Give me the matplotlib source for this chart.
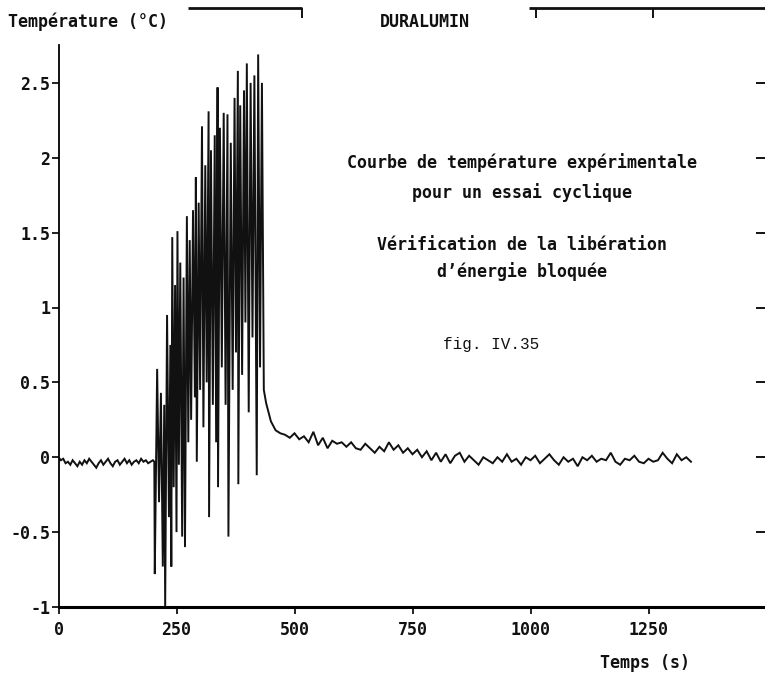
import numpy as np
import matplotlib.pyplot as plt

plt.rcParams['axes.unicode_minus'] = False
MONO = 'DejaVu Sans Mono'

# baseline before the test, one reading every 5 s from t = 0
base_step = 5
base_temp = [0.0, -0.02, -0.01, -0.04, -0.03, -0.05, -0.02, -0.04, -0.06, -0.03,
             -0.05, -0.02, -0.04, -0.01, -0.03, -0.05, -0.07, -0.04, -0.02, -0.05,
             -0.03, -0.01, -0.04, -0.06, -0.03, -0.02, -0.05, -0.03, -0.01, -0.04,
             -0.02, -0.05, -0.03, -0.02, -0.04, -0.01, -0.03, -0.02, -0.04, -0.03,
             -0.02]

# cyclic test: turning points of the signal
cyc_time = [203, 204, 209, 213, 217, 221, 224, 226, 230, 234,
            237, 239, 241, 244, 247, 250, 252, 255, 258, 262,
            265, 268, 272, 275, 278, 281, 285, 289, 291, 293,
            297, 300, 304, 307, 311, 314, 318, 319, 323, 327,
            331, 334, 337, 338, 342, 346, 350, 354, 358, 360,
            365, 369, 373, 376, 380, 381, 385, 389, 393, 396,
            399, 403, 407, 411, 415, 420, 423, 427, 431, 435]
cyc_temp = [-0.03, -0.78, 0.59, -0.30, 0.43, -0.73, 0.35, -1.00, 0.95, -0.40,
            0.75, -0.73, 1.47, -0.20, 1.15, -0.50, 1.51, -0.05, 1.30, -0.53,
            1.20, -0.60, 1.61, 0.10, 1.45, 0.25, 1.65, 0.40, 1.87, -0.03,
            1.70, 0.45, 2.21, 0.20, 1.95, 0.50, 2.31, -0.40, 2.05, 0.35,
            2.15, 0.10, 2.47, -0.20, 2.20, 0.60, 2.30, 0.35, 2.29, -0.53,
            2.10, 0.45, 2.40, 0.70, 2.58, -0.18, 2.35, 0.55, 2.45, 0.90,
            2.63, 0.30, 2.50, 0.80, 2.55, -0.12, 2.69, 0.60, 2.50, 0.45]

# relaxation after the test, one reading every 10 s from t = 440
tail_start = 440
tail_step = 10
tail_temp = [0.36, 0.24, 0.18, 0.16, 0.15, 0.13, 0.16, 0.12, 0.14, 0.10,
             0.17, 0.08, 0.13, 0.06, 0.11, 0.09, 0.10, 0.07, 0.10, 0.06,
             0.05, 0.09, 0.06, 0.03, 0.07, 0.04, 0.10, 0.05, 0.08, 0.03,
             0.06, 0.02, 0.05, 0.00, 0.04, -0.02, 0.03, -0.03, 0.02, -0.04,
             0.01, 0.03, -0.03, 0.01, -0.02, -0.05, 0.00, -0.02, -0.04, 0.00,
             -0.03, 0.02, -0.03, -0.01, -0.05, 0.00, -0.02, 0.01, -0.04, -0.01,
             0.02, -0.02, -0.05, 0.00, -0.03, -0.01, -0.06, 0.00, -0.02, 0.01,
             -0.03, -0.01, -0.02, 0.03, -0.03, -0.05, -0.01, -0.02, 0.01, -0.03,
             -0.04, -0.01, -0.03, -0.02, 0.03, -0.01, -0.04, 0.02, -0.02, 0.00,
             -0.03]

x_ticks = [0, 250, 500, 750, 1000, 1250]
y_ticks = [-1, -0.5, 0, 0.5, 1, 1.5, 2, 2.5]
y_labels = ['-1', '-0.5', '0', '0.5', '1', '1.5', '2', '2.5']

time = np.concatenate([np.arange(len(base_temp)) * base_step,
                       cyc_time,
                       tail_start + np.arange(len(tail_temp)) * tail_step])
temp = np.concatenate([base_temp, cyc_temp, tail_temp])

W, H = 765, 682
fig = plt.figure(figsize=(W / 100, H / 100), dpi=100)
ax = fig.add_axes([58.5 / W, 75 / H, 708 / W, 599 / H])

ax.plot(time, temp, color='#111111', lw=1.4, solid_joinstyle='miter')
ax.set_xlim(0, 1500)
ax.set_ylim(-1, 3)

ax.spines['right'].set_visible(False)
ax.spines['top'].set_visible(False)
ax.spines['left'].set_bounds(-1, 2.75)
ax.spines['left'].set_linewidth(1.3)
ax.spines['bottom'].set_linewidth(2.2)

# broken top frame line (the scan is slightly skewed at the top)
for x0, x1 in [(275, 515), (997, 1500)]:
    ax.plot([x0, x1], [3, 3], color='#111111', lw=2, clip_on=False,
            solid_capstyle='butt')

ax.set_xticks(x_ticks)
ax.set_xticklabels([str(v) for v in x_ticks])
ax.set_yticks(y_ticks)
ax.set_yticklabels(y_labels)
ax.tick_params(axis='both', direction='out', length=5, width=1.3,
               labelsize=12, colors='#111111')
ax.tick_params(axis='x', pad=5)
ax.tick_params(axis='y', pad=1)
for lab in ax.get_xticklabels() + ax.get_yticklabels():
    lab.set_fontfamily(MONO)
    lab.set_fontweight('bold')

top = ax.secondary_xaxis('top')
top.set_xticks([515, 1012, 1260])
top.set_xticklabels([])
top.tick_params(direction='in', length=7, width=1.3)
top.spines['top'].set_visible(False)

right = ax.secondary_yaxis('right')
right.set_yticks(y_ticks)
right.set_yticklabels([])
right.tick_params(direction='in', length=8, width=1.3)
right.spines['right'].set_visible(False)

bold = dict(fontfamily=MONO, fontweight='bold', fontsize=12, color='#111111')
fig.text(8 / W, 1 - 22 / H, 'Température (°C)', ha='left', va='center', **bold)
fig.text(425 / W, 1 - 22 / H, 'DURALUMIN', ha='center', va='center', **bold)
fig.text(645 / W, 1 - 663 / H, 'Temps (s)', ha='center', va='center', **bold)

ax.text(982, 1.97, 'Courbe de température expérimentale', ha='center', va='center', **bold)
ax.text(982, 1.77, 'pour un essai cyclique', ha='center', va='center', **bold)
ax.text(982, 1.42, 'Vérification de la libération', ha='center', va='center', **bold)
ax.text(982, 1.24, 'd’énergie bloquée', ha='center', va='center', **bold)
ax.text(916, 0.75, 'fig. IV.35', ha='center', va='center',
        fontfamily='Liberation Mono', fontsize=11.5, color='#111111')

fig.savefig('out.png', dpi=100, facecolor='white')
